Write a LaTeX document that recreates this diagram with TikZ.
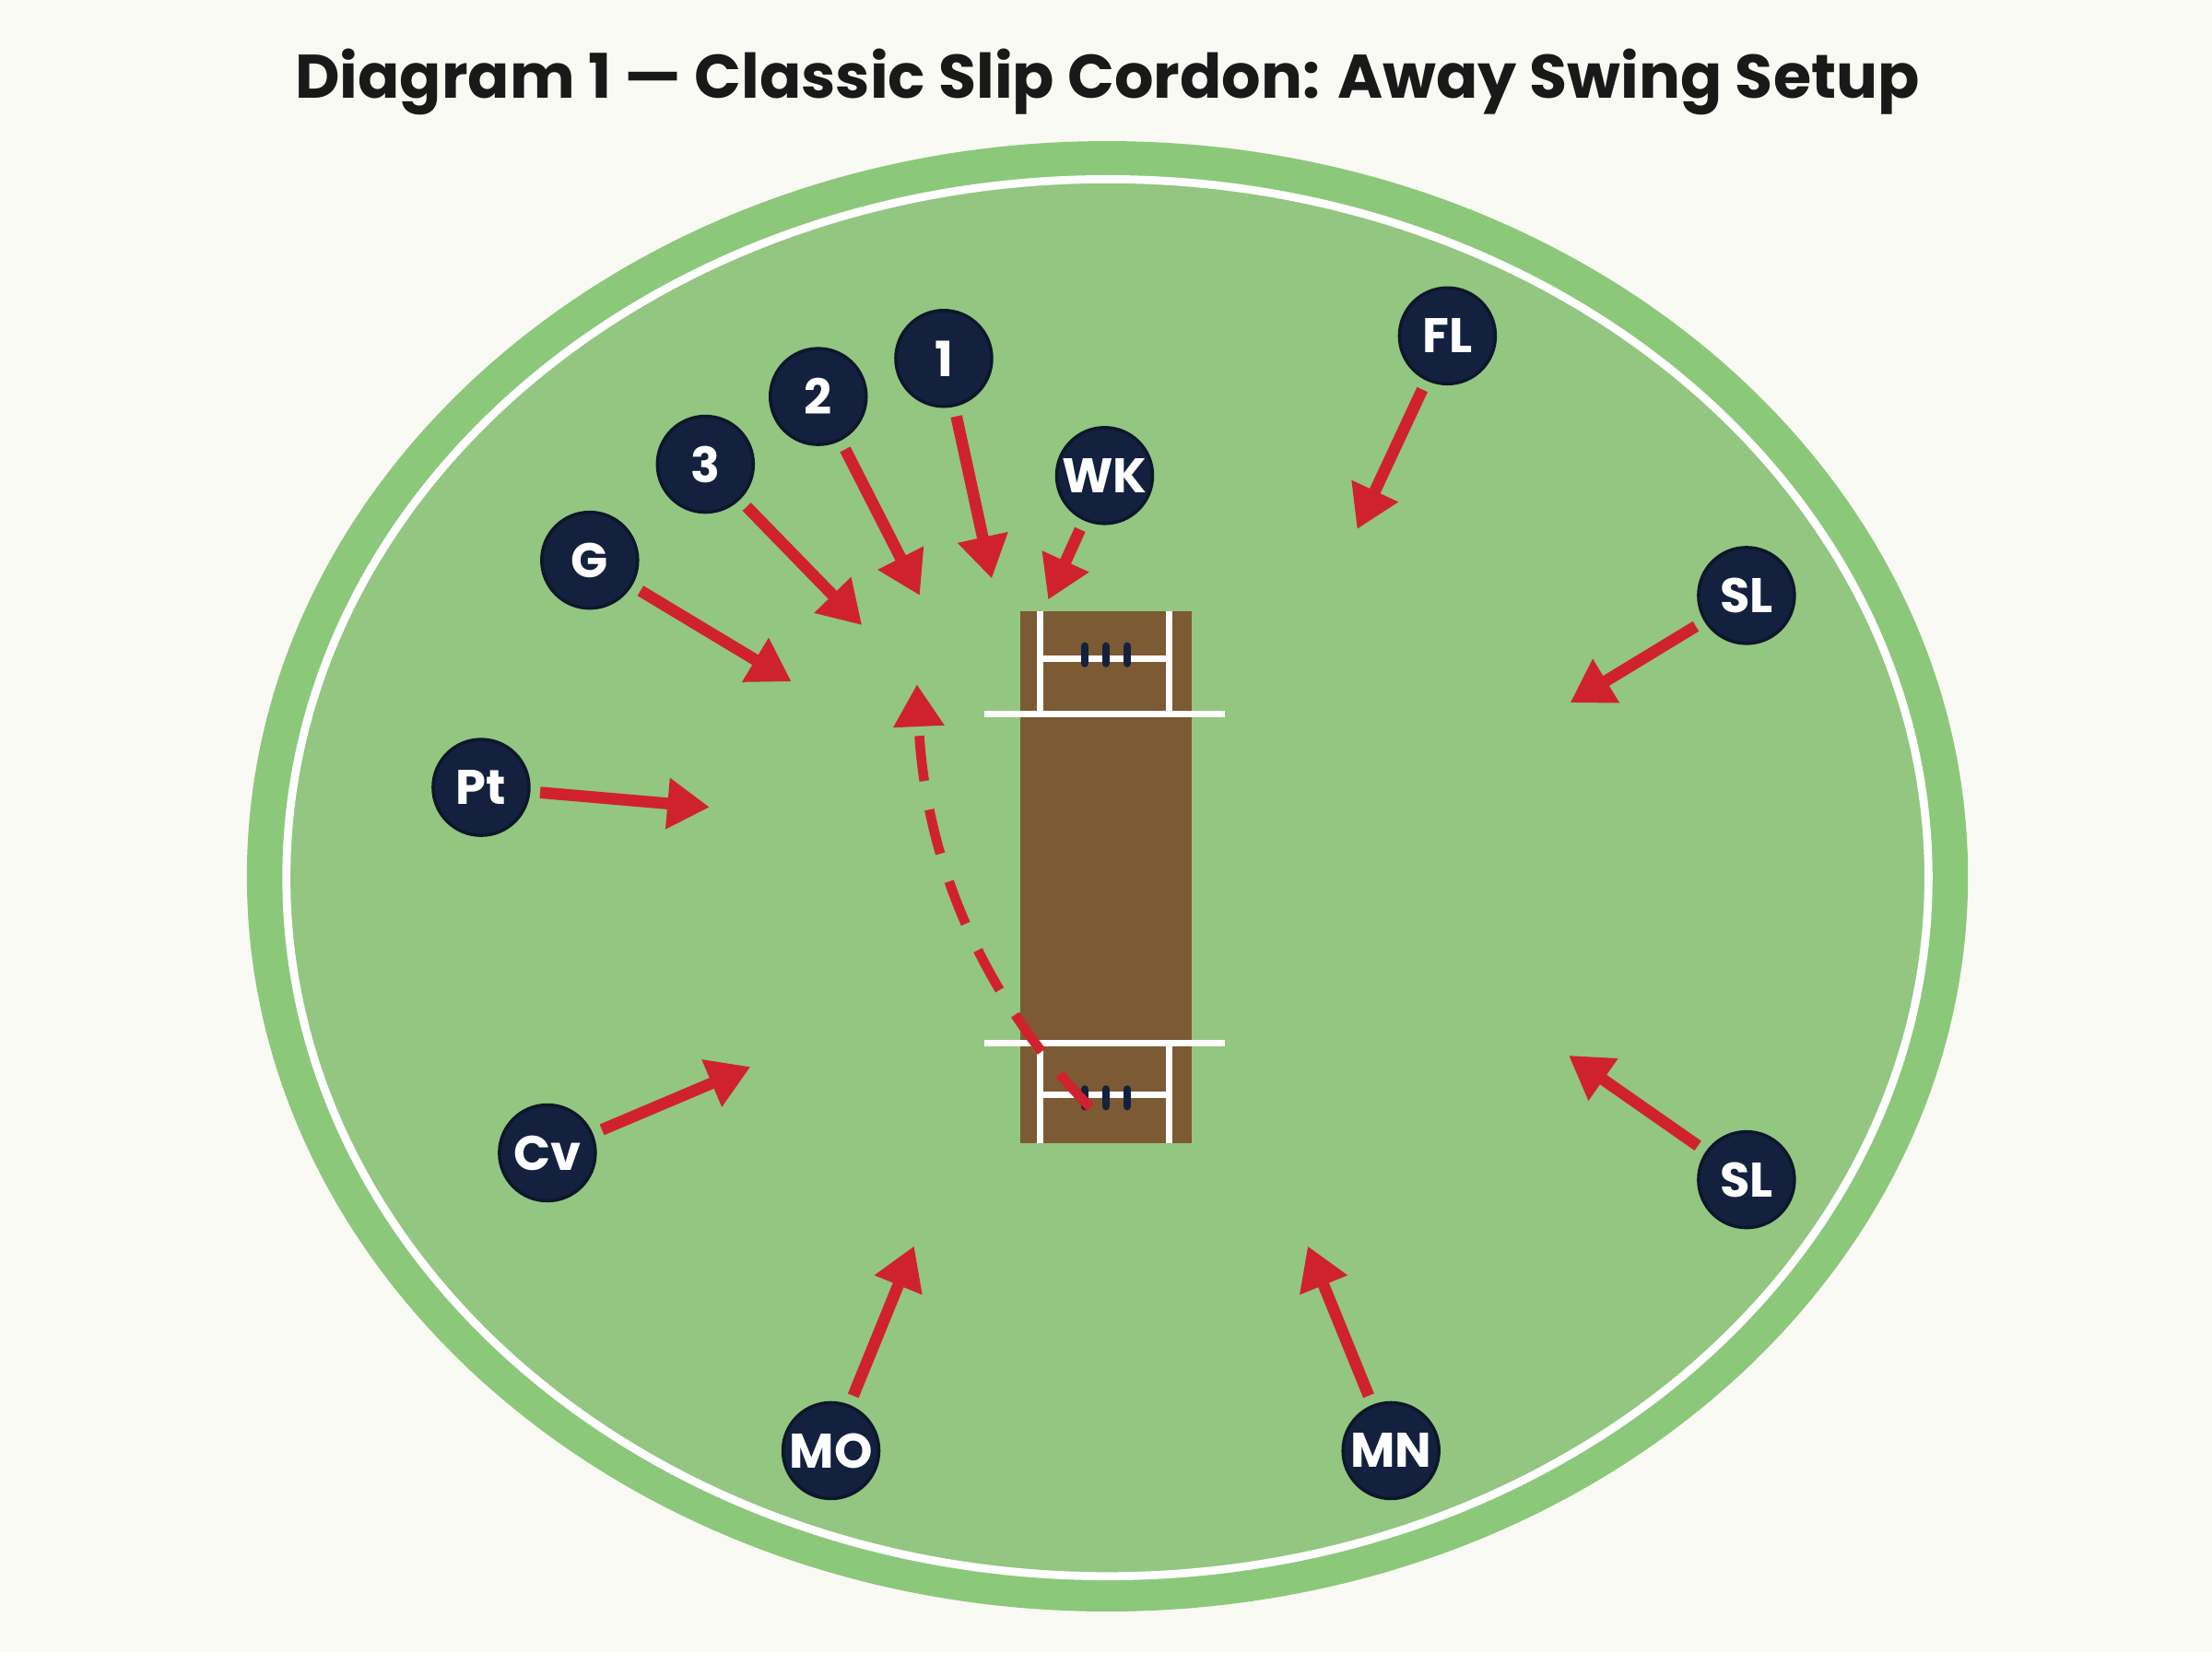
\documentclass[tikz,border=0pt]{standalone}
\usepackage{fontspec}
\setmainfont{Poppins}
\usetikzlibrary{arrows.meta}
\definecolor{paper}{HTML}{FAFAF4}
\definecolor{outfield}{HTML}{8CC87A}
\definecolor{infield}{HTML}{93C680}
\definecolor{pitchbrown}{HTML}{7C5A33}
\definecolor{navy}{HTML}{13213F}
\definecolor{swingred}{HTML}{D0222E}
\tikzset{
  fielder/.style={circle, fill=navy, draw=navy!70!black, line width=1pt, minimum size=1.04cm, inner sep=0pt, text=white, font=\bfseries\fontsize{15}{15}\selectfont},
  move/.style={swingred, line width=3.6pt, -{Triangle[length=13pt,width=15pt]}, shorten <=3pt},
  crease/.style={white, line width=2pt},
}
\begin{document}
\begin{tikzpicture}[x=0.01531cm, y=-0.01531cm]
        \useasboundingbox[fill=paper] (0,0) rectangle (1568,1171);
        \node[font=\bfseries\fontsize{19}{19}\selectfont, text=black!90] (title) at (785,58) {Diagram 1 — Classic Slip Cordon: Away Swing Setup};
        % ground
        \fill[outfield] (785,621) ellipse [x radius=610, y radius=521];
        \fill[infield] (785,622) ellipse [x radius=582, y radius=495];
        \draw[white, line width=2.5pt] (785,622) ellipse [x radius=582, y radius=495];
        % pitch
        \fill[pitchbrown] (723,433) rectangle (845,810);
        \draw[crease] (698,506) -- (868,506);
        \draw[crease] (698,739) -- (868,739);
        \draw[crease] (737,433) -- (737,506);
        \draw[crease] (829,433) -- (829,506);
        \draw[crease] (737,467) -- (829,467);
        \draw[crease] (737,739) -- (737,810);
        \draw[crease] (829,739) -- (829,810);
        \draw[crease] (737,776) -- (829,776);
        \draw[navy, line width=2.5pt, line cap=round] (769,458) -- (769,470) (784,458) -- (784,470) (799,458) -- (799,470);
        \draw[navy, line width=2.5pt, line cap=round] (769,772) -- (769,784) (784,772) -- (784,784) (799,772) -- (799,784);
        % swing path
        \coordinate (release) at (773,785);
        \coordinate (edge) at (650,485);
        \draw[swingred, line width=3pt, dash pattern=on 14pt off 9pt, -{Triangle[length=13pt,width=15pt]}] (release) .. controls (690,700) and (655,600) .. (edge);
        % fielders
        \node[fielder] (first) at (669,254) {1};
        \node[fielder] (second) at (580,281) {2};
        \node[fielder] (third) at (500,329) {3};
        \node[fielder] (gully) at (418,397) {G};
        \node[fielder] (keeper) at (783,337) {WK};
        \node[fielder] (fineleg) at (1026,238) {FL};
        \node[fielder] (sqlegu) at (1238,422) {SL};
        \node[fielder] (point) at (341,558) {Pt};
        \node[fielder] (cover) at (388,817) {Cv};
        \node[fielder] (midoff) at (589,1028) {MO};
        \node[fielder] (midon) at (986,1028) {MN};
        \node[fielder] (sqlegd) at (1238,836) {SL};
        % targets
        \coordinate (firstT) at (703,410);
        \coordinate (secondT) at (652,422);
        \coordinate (thirdT) at (611,443);
        \coordinate (gullyT) at (561,483);
        \coordinate (keeperT) at (743,425);
        \coordinate (finelegT) at (962,375);
        \coordinate (sqleguT) at (1113,498);
        \coordinate (pointT) at (503,572);
        \coordinate (coverT) at (532,756);
        \coordinate (midoffT) at (648,883);
        \coordinate (midonT) at (927,883);
        \coordinate (sqlegdT) at (1112,748);
        \draw[move] (first) -- (firstT);
        \draw[move] (second) -- (secondT);
        \draw[move] (third) -- (thirdT);
        \draw[move] (gully) -- (gullyT);
        \draw[move] (keeper) -- (keeperT);
        \draw[move] (fineleg) -- (finelegT);
        \draw[move] (sqlegu) -- (sqleguT);
        \draw[move] (point) -- (pointT);
        \draw[move] (cover) -- (coverT);
        \draw[move] (midoff) -- (midoffT);
        \draw[move] (midon) -- (midonT);
        \draw[move] (sqlegd) -- (sqlegdT);
\end{tikzpicture}
\end{document}
